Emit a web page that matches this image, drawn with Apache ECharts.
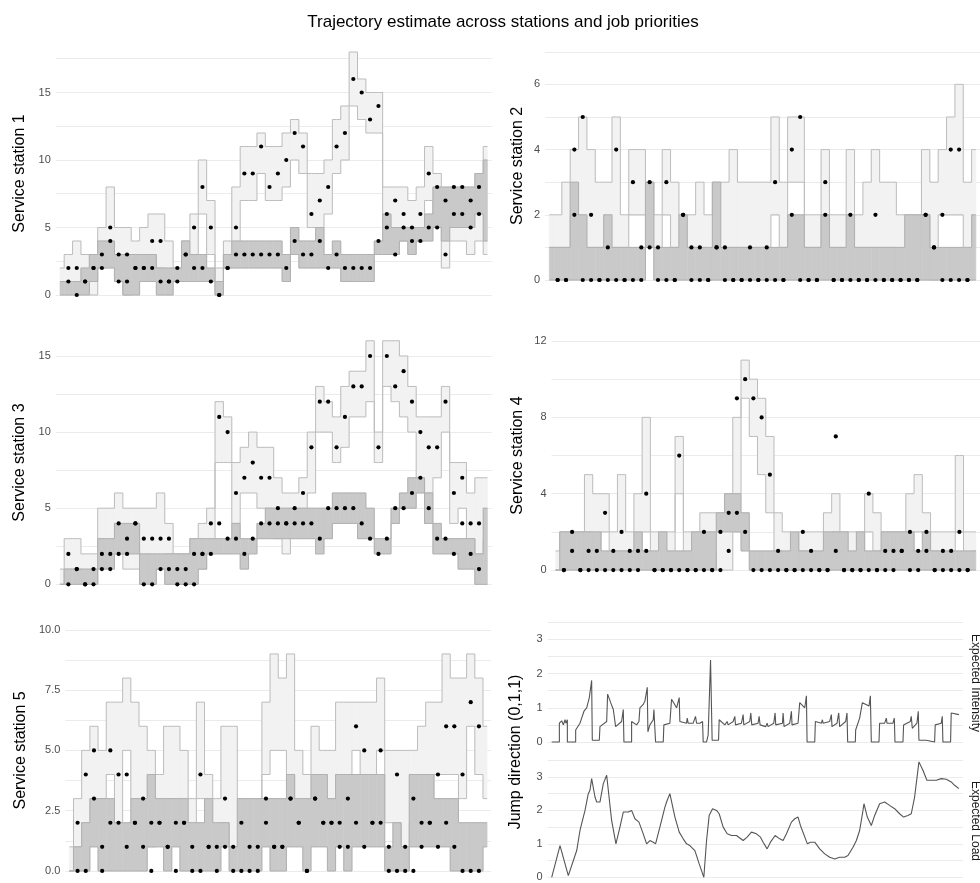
<!DOCTYPE html>
<html><head><meta charset="utf-8">
<script src="https://cdn.jsdelivr.net/npm/echarts@6/dist/echarts.min.js"></script>
<style>html,body{margin:0;padding:0;background:#fff}#c{width:980px;height:883px}</style>
</head><body><div id="c"></div>
<script>
// ---- time stamps ----
const BAND_T = [0,1,2,3,4,5,6,7,8,9,10,11,12,13,14,15,16,17,18,19,20,21,22,23,24,25,26,27,28,29,30,31,32,33,34,35,36,37,38,39,40,41,42,43,44,45,46,47,48,49,50,51];
const OBS_T = [1,2,3,4,5,6,7,8,9,10,11,12,13,14,15,16,17,18,19,20,21,22,23,24,25,26,27,28,29,30,31,32,33,34,35,36,37,38,39,40,41,42,43,44,45,46,47,48,49,50];

// ---- Service station 1 ----
const s1_lightLo = [1,1,1,1,0,2,3,1,0,1,1,2,2,1,1,2,3,6,3,0,2,3,7,7,9,7,7,8,10,9,5,5,6,9,10,14,13,12,12,5,5,4,4,4,7,5,2,4,4,3,4,3];
const s1_lightHi = [2,3,4,3,3,5,8,5,5,4,5,6,6,4,2,4,6,10,7,2,4,8,11,11,12,11,11,12,13,12,9,9,10,13,14,18,16,15,15,8,8,8,7,8,11,9,5,7,7,7,8,11];
const s1_darkLo = [0,0,0,0,1,2,2,1,0,0,1,1,0,0,1,1,1,1,1,0,2,2,2,2,2,2,2,1,3,2,2,2,2,2,1,1,1,1,3,3,3,4,3,4,4,5,4,5,5,5,6,4];
const s1_darkHi = [1,1,1,2,3,4,4,3,3,3,3,3,2,2,2,4,3,3,2,1,3,4,4,4,4,4,4,3,5,4,4,5,3,4,3,3,3,3,4,6,5,5,5,5,6,8,8,8,8,8,9,10];
const s1_obsA = [2,2,1,2,3,5,3,3,2,2,4,4,1,2,3,5,8,5,0,2,5,9,9,11,8,9,10,12,11,6,7,8,11,12,16,15,13,14,6,7,6,5,6,9,8,3,6,6,5,6];
const s1_obsB = [1,0,1,2,2,4,1,1,2,2,2,1,1,1,3,2,2,1,0,2,3,3,3,3,3,3,2,4,3,3,4,2,3,2,2,2,2,4,5,3,5,4,4,5,5,7,8,8,7,8];

// ---- Service station 2 ----
const s2_lightLo = [1,1,1,2,1,1,1,1,1,1,2,2,1,1,2,1,1,1,1,0,1,1,1,1,1,1,1,2,1,3,3,1,1,2,1,1,1,1,1,1,1,1,0,0,1,2,0,2,2,2,0,1];
const s2_lightHi = [2,2,3,4,5,4,3,3,5,2,4,4,3,2,4,3,2,2,3,2,3,3,4,3,3,3,3,5,3,5,5,2,2,4,2,2,4,2,3,4,3,3,2,2,2,4,3,4,5,6,3,4];
const s2_darkLo = [0,0,0,0,0,0,0,0,0,0,0,0,1,0,0,0,0,0,0,0,0,0,0,0,0,0,0,0,0,0,0,0,0,0,0,0,0,0,0,0,0,0,0,0,0,0,0,0,0,0,0,0];
const s2_darkHi = [1,1,1,3,2,1,1,2,1,1,1,1,3,1,1,1,2,1,1,1,3,1,1,1,1,1,1,1,1,2,2,1,1,2,1,1,2,1,1,1,1,1,1,2,2,2,1,1,1,1,1,2];
const s2_obsA = [0,0,4,5,2,0,1,4,0,3,1,3,1,3,0,2,1,1,0,1,1,0,0,1,0,1,3,0,4,5,0,0,3,0,0,2,0,0,2,0,0,0,0,0,2,1,2,4,4,0];
const s2_obsB = [0,0,2,0,0,0,0,0,0,0,0,1,0,0,0,2,0,0,0,1,0,0,0,0,0,0,0,0,2,0,0,0,2,0,0,0,0,0,0,0,0,0,0,0,2,1,0,0,0,0];

// ---- Service station 3 ----
const s3_lightLo = [0,1,1,0,0,1,2,2,1,1,1,1,1,2,0,0,1,1,2,8,8,4,6,6,5,5,3,2,4,4,6,10,10,8,9,11,11,12,8,13,12,11,10,7,6,7,10,4,5,3,2,3];
const s3_lightHi = [1,3,3,2,2,5,5,6,5,5,5,5,6,4,2,2,3,4,5,12,11,8,9,10,9,9,7,6,6,7,10,13,12,11,13,14,14,16,10,16,16,15,13,11,11,11,13,8,8,6,7,7];
const s3_darkLo = [0,0,0,0,0,1,1,2,2,2,0,0,1,0,0,0,0,1,2,2,2,2,1,2,3,3,3,3,3,3,3,2,3,4,4,4,3,3,2,2,4,5,5,6,4,2,2,2,1,1,0,0];
const s3_darkHi = [0,1,1,1,1,3,3,4,4,4,2,2,2,2,2,2,3,3,3,3,3,4,3,3,4,5,5,5,5,5,5,5,5,6,6,6,6,5,3,3,5,6,7,7,6,4,3,3,3,3,2,5];
const s3_obsA = [2,1,0,1,2,2,4,3,4,3,3,3,3,1,1,2,2,4,11,10,6,7,8,7,7,5,4,5,6,9,12,12,9,11,13,13,15,9,15,13,14,12,10,9,9,12,6,7,4,4];
const s3_obsB = [0,1,0,0,1,1,2,2,4,0,0,1,1,0,0,0,2,2,4,3,3,2,3,4,4,4,4,4,4,4,3,5,5,5,5,4,3,2,3,5,5,6,7,5,3,3,2,4,2,1];

// ---- Service station 4 ----
const s4_lightLo = [0,0,1,0,2,1,2,1,1,1,1,2,0,0,0,4,0,1,1,1,0,0,4,9,7,5,3,1,0,0,1,1,0,0,2,0,0,1,2,1,1,1,1,2,2,2,1,0,1,2,0,1];
const s4_lightHi = [1,2,2,2,5,4,4,2,5,2,4,8,2,2,2,7,2,2,3,3,3,4,8,11,10,9,7,3,2,1,2,2,2,3,4,2,2,2,4,3,2,2,2,4,5,3,2,2,2,6,2,2];
const s4_darkLo = [0,0,0,0,0,0,0,0,0,0,0,0,0,0,0,0,0,0,0,0,2,2,2,1,0,0,0,0,0,0,0,0,0,0,0,0,0,0,0,0,0,0,0,0,0,0,0,0,0,0,0,0];
const s4_darkHi = [0,2,2,2,2,2,1,1,1,1,2,1,1,2,1,1,1,2,2,2,3,4,4,3,1,1,1,1,1,2,1,1,1,2,2,2,1,2,1,1,2,2,2,2,1,2,1,1,1,1,1,1];
const s4_obsA = [0,2,0,1,1,3,1,2,1,1,4,0,0,0,6,0,0,2,0,2,3,9,10,9,8,5,1,0,0,2,1,0,0,7,0,0,0,4,0,1,1,1,2,1,2,0,1,1,2,0];
const s4_obsB = [0,1,0,0,0,0,0,0,0,0,1,0,0,0,0,0,0,0,0,0,1,3,2,0,0,0,0,0,0,0,0,0,0,1,0,0,0,0,0,0,0,1,0,0,1,0,0,0,0,0];

// ---- Service station 5 ----
const s5_lightLo = [0,1,2,2,3,4,2,5,3,2,1,2,3,3,2,1,3,1,1,2,1,1,1,1,4,5,5,4,2,2,3,2,3,3,4,5,4,4,5,2,2,1,2,2,3,4,4,4,3,6,4,3];
const s5_lightHi = [1,3,5,6,5,7,7,8,7,6,5,4,6,6,5,3,7,4,3,6,6,3,3,3,7,9,8,9,5,4,6,5,5,7,7,7,7,7,8,5,5,5,5,6,7,7,9,8,8,9,8,6];
const s5_darkLo = [0,0,0,1,0,0,0,0,0,0,1,1,0,1,0,0,0,0,0,1,0,0,0,0,1,0,0,1,1,0,1,1,0,1,0,1,1,1,1,0,0,0,1,1,1,1,1,0,0,0,0,1];
const s5_darkHi = [0,1,2,3,3,3,2,2,3,3,4,3,3,3,3,2,2,3,2,2,1,3,3,3,3,3,3,4,3,3,4,4,3,4,4,4,4,4,4,1,2,1,4,4,4,3,3,3,2,2,2,2];
const s5_obsA = [2,4,5,1,5,4,4,2,3,2,2,1,2,2,1,4,1,1,3,1,2,1,1,3,1,1,3,2,0,3,2,2,2,3,6,5,2,5,1,4,1,3,2,2,4,6,6,4,7,6];
const s5_obsB = [0,0,3,0,2,2,1,2,1,0,2,1,0,2,0,0,1,0,1,0,0,0,0,2,1,1,3,2,0,3,2,2,1,1,2,1,2,2,0,0,0,0,1,2,1,2,1,0,0,0];

// ---- Jump direction (0,1,1) ----
const intensityPoints = [[0,0],[0.96,0],[0.96,0.55],[1.25,0.62],[1.46,0.5],[1.67,0.65],[1.79,0.55],[1.96,0.65],[1.96,0],[3.0,0],[3.0,0.35],[3.54,0.55],[4.04,0.9],[4.38,1.0],[4.71,1.3],[5.0,1.8],[5.08,0.05],[5.96,0.05],[6.04,0.45],[6.88,0.6],[7.0,1.4],[7.38,1.15],[7.71,0.95],[7.92,0.9],[8.0,0.45],[8.75,0.6],[8.96,0.95],[9.04,0],[10.0,0],[10.0,0.6],[10.63,0.5],[10.92,0.6],[11.04,1.0],[11.46,1.1],[11.67,1.2],[11.96,1.6],[12.04,0.3],[12.29,0.5],[12.71,0.65],[12.79,0.95],[13.0,0],[13.96,0],[14.04,0.5],[14.79,0.55],[15.0,1.25],[15.63,1.0],[15.96,1.3],[16.04,0.6],[16.88,0.55],[16.96,0.7],[17.08,0.55],[17.71,0.55],[18.0,0.75],[18.13,0.55],[18.54,0.55],[18.88,0.6],[18.96,0],[19.38,0],[19.58,0.2],[19.88,2.4],[20.08,0.05],[20.88,0.05],[20.96,0.65],[21.67,0.5],[21.96,0.6],[22.08,0.5],[22.71,0.6],[22.92,0.75],[23.0,0.5],[23.75,0.55],[23.96,0.8],[24.04,0.5],[24.79,0.6],[24.92,0.85],[25.04,0.5],[25.83,0.55],[25.96,0.75],[26.08,0.5],[26.79,0.45],[26.96,0.55],[27.08,0.45],[27.79,0.55],[27.96,0.85],[28.04,0.5],[28.88,0.55],[28.96,0.85],[29.08,0.45],[29.79,0.55],[30.0,0.9],[30.08,0.5],[30.83,0.55],[31.04,1.15],[31.67,1.0],[31.88,1.35],[31.96,0],[32.92,0],[33.0,0.6],[33.75,0.55],[33.88,0.65],[33.96,0.55],[34.79,0.6],[35.0,0.8],[35.08,0.45],[35.71,0.55],[35.92,0.85],[36.04,0.45],[36.79,0.6],[36.96,0.85],[37.04,0],[38.0,0],[38.04,0.35],[38.54,0.7],[38.88,1.15],[39.71,1.05],[39.88,1.35],[40.0,0],[40.96,0],[41.04,0.55],[41.67,0.55],[41.88,0.7],[41.96,0.55],[42.71,0.55],[42.88,0.7],[42.96,0],[43.96,0],[44.04,0.5],[44.88,0.6],[45.0,0.75],[45.13,0.4],[45.71,0.55],[45.88,0.9],[45.96,0.05],[46.88,0.05],[46.96,0],[47.92,0],[48.0,0.5],[48.75,0.55],[48.88,0.75],[48.96,0],[49.92,0],[50.0,0.85],[50.96,0.8]];
const loadT = [0,1.04,2.08,3.13,3.54,4.17,4.58,4.79,5.0,5.42,5.63,6.04,6.46,6.88,7.08,7.5,8.04,8.54,8.96,9.58,10.0,10.42,10.92,11.38,11.88,12.29,12.71,13.0,13.54,14.17,14.38,14.79,15.0,15.42,15.96,16.46,16.88,17.29,17.92,18.46,19.04,19.38,19.71,20.13,20.63,20.96,21.46,21.96,22.5,23.13,23.96,24.46,25.0,25.63,26.13,26.46,26.96,27.38,27.96,28.54,28.96,29.38,30.0,30.42,30.83,31.13,32.0,32.38,32.92,33.54,34.17,34.79,35.42,36.04,36.67,37.08,37.71,38.13,38.54,38.96,39.08,39.5,40.0,40.42,41.04,41.67,42.29,42.92,43.54,44.04,44.58,45.0,45.42,45.96,46.46,46.96,47.71,48.13,48.75,49.38,50.0,50.42,50.96];
const loadV = [0,0.95,0.05,0.8,1.4,2.0,2.5,2.6,2.95,2.4,2.25,2.25,2.8,3.05,3.0,1.7,1.0,1.5,1.95,1.95,2.0,1.75,1.65,1.35,1.0,1.1,1.05,1.0,1.5,2.1,2.25,2.5,2.45,1.8,1.35,1.15,1.0,0.95,0.8,0.4,0.0,1.1,1.85,2.05,2.0,1.9,1.5,1.3,1.25,1.25,1.1,1.2,1.35,1.3,1.2,1.05,0.85,1.05,1.25,1.15,1.1,1.3,1.65,1.75,1.8,1.55,1.0,1.05,1.05,0.85,0.7,0.6,0.55,0.6,0.6,0.65,0.9,1.1,1.4,2.0,2.2,1.8,1.55,1.85,2.2,2.25,2.15,2.05,1.9,1.8,1.85,1.9,2.4,3.45,3.2,2.9,2.9,2.9,2.95,2.93,2.85,2.75,2.65];

// ---- text ----
const TITLE = 'Trajectory estimate across stations and job priorities';
const STATION_NAMES = ['Service station 1','Service station 2','Service station 3','Service station 4','Service station 5'];
const JUMP_NAME = 'Jump direction (0,1,1)';
const FACET_NAMES = ['Expected Intensity','Expected Load'];

// ---- tick values ----
const TICKS = [
  [0,2.5,5,7.5,10,12.5,15,17.5],
  [0,1,2,3,4,5,6,7],
  [0,2.5,5,7.5,10,12.5,15],
  [0,2,4,6,8,10,12],
  [0,1.25,2.5,3.75,5,6.25,7.5,8.75,10]
];
const LABELS = [[0,5,10,15],[0,2,4,6],[0,5,10,15],[0,4,8,12],[0,2.5,5,7.5,10]];
const JUMP_TICKS = [0,0.5,1,1.5,2,2.5,3,3.5];
const JUMP_LABELS = [0,1,2,3];

// ---- layout ----
const FONT = '"Liberation Sans", Arial, Helvetica, sans-serif';
const LAYOUT = [
  {left:55.8, top:39.85, width:435.8, height:267.3, y:[-0.9,18.9], gap:28, dec:0},
  {left:545.1, top:42.0, width:440.4, height:247.8, y:[-0.3,7.3], gap:20, dec:0},
  {left:55.8, top:328.6, width:435.8, height:267.9, y:[-0.8,16.8], gap:28, dec:0},
  {left:551.5, top:329.6, width:436.8, height:251.9, y:[-0.6,12.6], gap:26, dec:0},
  {left:65.3, top:617.8, width:425.9, height:267.6, y:[-0.5,10.5], gap:37, dec:1}
];
const DATA = [
  [s1_lightLo,s1_lightHi,s1_darkLo,s1_darkHi,s1_obsA,s1_obsB],
  [s2_lightLo,s2_lightHi,s2_darkLo,s2_darkHi,s2_obsA,s2_obsB],
  [s3_lightLo,s3_lightHi,s3_darkLo,s3_darkHi,s3_obsA,s3_obsB],
  [s4_lightLo,s4_lightHi,s4_darkLo,s4_darkHi,s4_obsA,s4_obsB],
  [s5_lightLo,s5_lightHi,s5_darkLo,s5_darkHi,s5_obsA,s5_obsB]
];

const pairs = (xs, ys) => xs.map((x, i) => [x, ys[i]]);
const grids = [], xAxes = [], yAxes = [], series = [];
const T_FIRST = BAND_T[0], T_LAST = BAND_T[BAND_T.length - 1];

function yAxisBase(i, range, ticks, labels, dec) {
  return {
    type:'value', gridIndex:i, min:range[0], max:range[1],
    axisLine:{show:false},
    axisTick:{show:false, customValues:ticks},
    axisLabel:{customValues:labels, color:'#4d4d4d', fontSize:11, fontFamily:FONT, margin:5,
      formatter: v => Number(v).toFixed(dec)},
    splitLine:{show:true, lineStyle:{color:'#ebebeb', width:1}}
  };
}
function addBand(i, lo, hi, fill, edge, zBase) {
  // ribbon fill: one step cell per time stamp
  series.push({type:'custom', xAxisIndex:i, yAxisIndex:i, silent:true, z:zBase,
    data: BAND_T.map((t, k) => [t, lo[k], hi[k]]),
    encode:{x:0, y:[1,2]},
    renderItem: (params, api) => {
      const t = api.value(0), l = api.value(1), h = api.value(2);
      const a = api.coord([Math.max(T_FIRST, t - 0.5), h]);
      const b = api.coord([Math.min(T_LAST, t + 0.5), l]);
      return {type:'rect', shape:{x:a[0], y:a[1], width:b[0]-a[0], height:b[1]-a[1]},
        style:{fill:fill, stroke:fill, lineWidth:0.6}};
    }});
  // ribbon edges
  series.push({type:'line', xAxisIndex:i, yAxisIndex:i, step:'middle', z:zBase + 1,
    data:pairs(BAND_T, lo), symbol:'none', silent:true, lineStyle:{color:edge, width:1}});
  series.push({type:'line', xAxisIndex:i, yAxisIndex:i, step:'middle', z:zBase + 1,
    data:pairs(BAND_T, hi), symbol:'none', silent:true, lineStyle:{color:edge, width:1}});
}

LAYOUT.forEach((L, i) => {
  grids.push({left:L.left, top:L.top, width:L.width, height:L.height});
  xAxes.push({type:'value', gridIndex:i, min:-0.5, max:51.5, show:false});
  const ya = yAxisBase(i, L.y, TICKS[i], LABELS[i], L.dec);
  ya.name = STATION_NAMES[i];
  ya.nameLocation = 'middle';
  ya.nameGap = L.gap;
  ya.nameTextStyle = {fontSize:16, color:'#000', fontFamily:FONT};
  yAxes.push(ya);
  const d = DATA[i];
  addBand(i, d[0], d[1], '#f2f2f2', '#bdbdbd', 2);
  addBand(i, d[2], d[3], '#c9c9c9', '#b0b0b0', 4);
  series.push({type:'scatter', xAxisIndex:i, yAxisIndex:i, z:10, data:pairs(OBS_T, d[4]), symbol:'circle', symbolSize:4.2, silent:true, itemStyle:{color:'#000', opacity:1}});
  series.push({type:'scatter', xAxisIndex:i, yAxisIndex:i, z:10, data:pairs(OBS_T, d[5]), symbol:'circle', symbolSize:4.2, silent:true, itemStyle:{color:'#000', opacity:1}});
});

// jump panel: two facets
const JUMP_GRIDS = [{left:547.7, top:618.2, width:415.5, height:129.6},{left:547.7, top:756.2, width:415.5, height:129.0}];
JUMP_GRIDS.forEach((g, k) => {
  const i = 5 + k;
  grids.push(g);
  xAxes.push({type:'value', gridIndex:i, min:-0.5, max:51.5, show:false});
  yAxes.push(yAxisBase(i, [-0.17,3.62], JUMP_TICKS, JUMP_LABELS, 0));
});
series.push({type:'line', xAxisIndex:5, yAxisIndex:5, data:intensityPoints, symbol:'none', silent:true, lineStyle:{color:'#555555', width:1.1}});
series.push({type:'line', xAxisIndex:6, yAxisIndex:6, data:pairs(loadT, loadV), symbol:'none', silent:true, lineStyle:{color:'#555555', width:1.1}});

const chart = echarts.init(document.getElementById('c'));
chart.setOption({
  animation:false,
  backgroundColor:'#ffffff',
  title:{text:TITLE, left:498, textAlign:'center', top:9, textStyle:{fontSize:17, fontWeight:'normal', color:'#000', fontFamily:FONT}},
  grid:grids, xAxis:xAxes, yAxis:yAxes, series:series,
  graphic:[
    {type:'text', x:516, y:752, rotation:Math.PI/2, silent:true,
      style:{text:JUMP_NAME, font:'16px ' + FONT, fill:'#000', align:'center', verticalAlign:'middle'}},
    {type:'text', x:975, y:683, rotation:-Math.PI/2, silent:true,
      style:{text:FACET_NAMES[0], font:'12px ' + FONT, fill:'#1a1a1a', align:'center', verticalAlign:'middle'}},
    {type:'text', x:975, y:821, rotation:-Math.PI/2, silent:true,
      style:{text:FACET_NAMES[1], font:'12px ' + FONT, fill:'#1a1a1a', align:'center', verticalAlign:'middle'}}
  ]
});
</script></body></html>
